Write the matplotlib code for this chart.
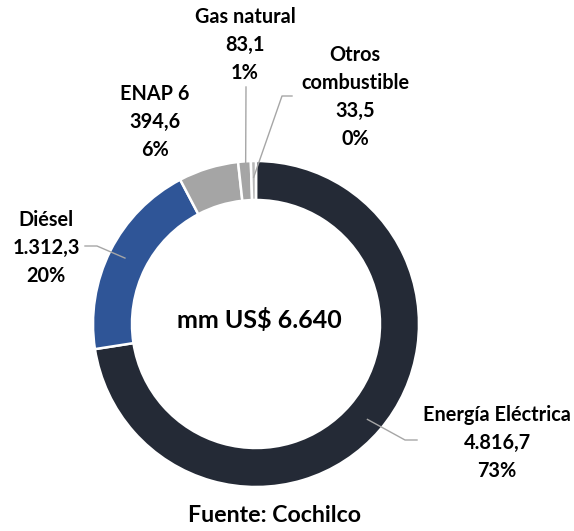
import numpy as np
import matplotlib
matplotlib.use('Agg')
import matplotlib.pyplot as plt

# data
categories = ['Energía Eléctrica', 'Diésel', 'ENAP 6', 'Gas natural', 'Otros\ncombustible']
values = [4816.7, 1312.3, 394.6, 83.1, 33.5]
pct_labels = ['73%', '20%', '6%', '1%', '0%']
colors = ['#242a36', '#2f5597', '#a5a5a5', '#a5a5a5', '#b8b8b8']
total_label = 'mm US$ 6.640'
source = 'Fuente: Cochilco'

W, H = 574, 531
cx, cy, R = 256, 531 - 324, 163

plt.rcParams['font.family'] = ['Lato', 'DejaVu Sans']
plt.rcParams['font.weight'] = 'bold'

fig = plt.figure(figsize=(W / 100, H / 100), dpi=100, facecolor='white')
ax = fig.add_axes([0, 0, 1, 1])

wedges, _ = ax.pie(values, colors=colors, startangle=90, counterclock=False,
                   center=(cx, cy), radius=R, frame=True,
                   wedgeprops=dict(width=39, edgecolor='white', linewidth=1.8))
ax.set_xlim(0, W)
ax.set_ylim(0, H)
ax.set_aspect('equal')
ax.axis('off')

def fmt(v):
    s = f'{v:,.1f}'
    return s.replace(',', 'X').replace('.', ',').replace('X', '.')

total = sum(values)
# label centre (image px), elbow points (image px)
label_pos = [(497, 443), (46, 248), (155, 122), (245, 45), (355, 97)]
elbows = [[(405, 440), (417, 440)],
          [(97, 246), (85, 246)],
          [],
          [(246, 87)],
          [(282, 96), (292, 96)]]

cum = 0
for i, v in enumerate(values):
    frac = v / total
    mid = np.deg2rad(90 - 360 * (cum + frac / 2))
    cum += frac
    ax_x = cx + 0.9 * R * np.cos(mid)
    ax_y = cy + 0.9 * R * np.sin(mid)
    lx, ly = label_pos[i]
    ax.text(lx, H - ly, f'{categories[i]}\n{fmt(v)}\n{pct_labels[i]}', ha='center', va='center',
            fontsize=14.3, fontweight='bold', color='black', linespacing=1.5)
    if elbows[i]:
        pts = [(ax_x, ax_y)] + [(x, H - y) for x, y in elbows[i]]
        xs, ys = zip(*pts)
        ax.plot(xs, ys, color='#a6a6a6', lw=1)

ax.text(259, H - 320, total_label, ha='center', va='center', fontsize=18, fontweight='bold')
ax.text(275, H - 515, source, ha='center', va='center', fontsize=16.7, fontweight='bold')

fig.savefig('out.png', dpi=100, facecolor='white')
